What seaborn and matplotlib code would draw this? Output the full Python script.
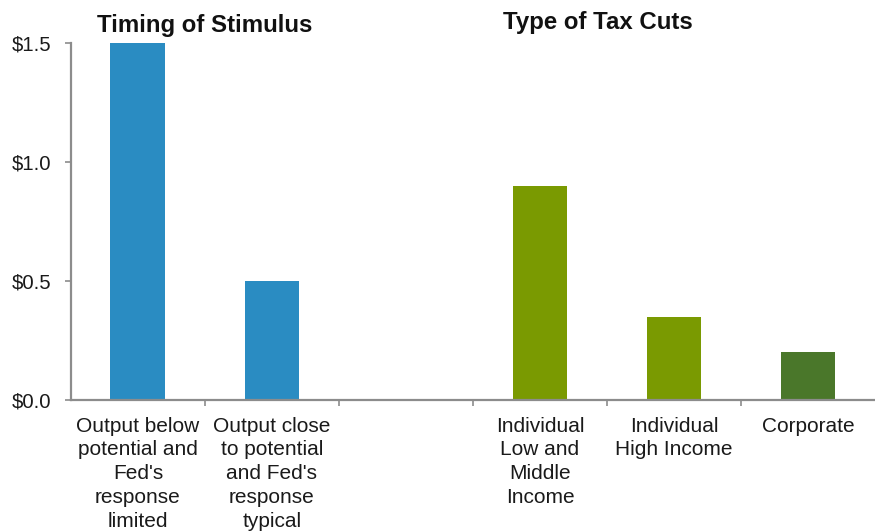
import matplotlib
matplotlib.use("Agg")
import matplotlib.pyplot as plt
import seaborn as sns
import numpy as np
import pandas as pd
from matplotlib.ticker import FixedLocator, FuncFormatter

categories = [
    "Output below\npotential and\nFed's\nresponse\nlimited",
    "Output close\nto potential\nand Fed's\nresponse\ntypical",
    " ",
    "Individual\nLow and\nMiddle\nIncome",
    "Individual\nHigh Income",
    "Corporate",
]
values = [1.5, 0.5, np.nan, 0.9, 0.35, 0.2]
bar_colors = ["#2a8cc2", "#2a8cc2", "#ffffff", "#7a9a01", "#7a9a01", "#4a772a"]
group_titles = ["Timing of Stimulus", "Type of Tax Cuts"]
y_ticks = [0.0, 0.5, 1.0, 1.5]

sns.set_theme(style="white")
plt.rcParams["font.family"] = ["Liberation Sans", "DejaVu Sans"]

df = pd.DataFrame({"cat": categories, "val": values})

fig = plt.figure(figsize=(8.75, 5.32), dpi=100)
ax = fig.add_axes([0.0811, 0.2481, 0.9189, 0.6711])

sns.barplot(data=df, x="cat", y="val", order=categories, hue="cat",
            hue_order=categories, palette=bar_colors, legend=False,
            width=0.41, saturation=1, ax=ax, errorbar=None, linewidth=0)

ax.set_xlim(-0.5, len(categories) - 0.5)
ax.set_ylim(0, 1.5)
ax.set_xlabel("")
ax.set_ylabel("")

for s in ["top", "right"]:
    ax.spines[s].set_visible(False)
for s in ["left", "bottom"]:
    ax.spines[s].set_color("#8c8c8c")
    ax.spines[s].set_linewidth(1.6)

ax.yaxis.set_major_locator(FixedLocator(y_ticks))
ax.yaxis.set_major_formatter(FuncFormatter(lambda v, p: f"${v:.1f}"))
ax.tick_params(axis="y", which="major", left=True, length=4, width=1.2,
               color="#8c8c8c", pad=10, labelsize=14.6, labelcolor="#1a1a1a")

ax.set_xticks(range(len(categories)))
ax.set_xticklabels(categories, fontsize=15, color="#1a1a1a", linespacing=1.32)
ax.tick_params(axis="x", which="major", length=0, pad=12)
ax.set_xticks(np.arange(0.5, len(categories) - 0.5, 1.0), minor=True)
ax.tick_params(axis="x", which="minor", bottom=True, length=4, width=1.2,
               color="#8c8c8c")

ax.text(0.5, 1.0 + 0.05, group_titles[0], transform=ax.get_xaxis_transform(),
        ha="center", va="center", fontsize=17.3, fontweight="bold", color="#111111")
ax.text(3.43, 1.0 + 0.058, group_titles[1], transform=ax.get_xaxis_transform(),
        ha="center", va="center", fontsize=17.3, fontweight="bold", color="#111111")

ax.set_facecolor("white")
fig.savefig("out.png", dpi=100, facecolor="white")
